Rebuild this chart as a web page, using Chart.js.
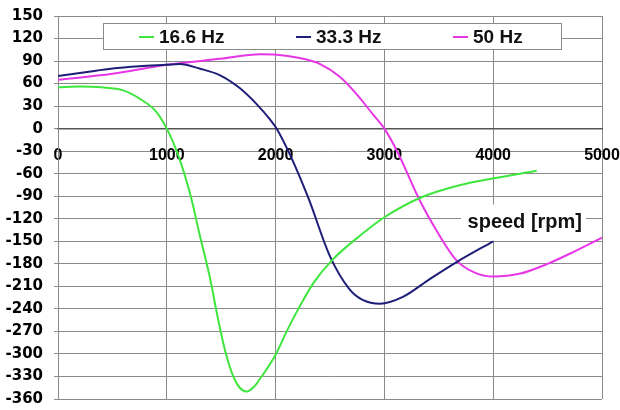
<!DOCTYPE html>
<html lang="en">
<head>
    <meta charset="UTF-8">
    <title>Torque vs speed</title>
    <script src="https://cdn.jsdelivr.net/npm/chart.js@4.4.1/dist/chart.umd.min.js"></script>
    <style>
        body { margin: 0; background: #fff; }
        #wrap { width: 620px; height: 410px; }
    </style>
</head>
<body>
<div id="wrap"><canvas id="chart"></canvas></div>
<script>
// speed [rpm] and value pairs
const rpm16 = [0, 200, 400, 600, 750, 900, 1000, 1094, 1222, 1300, 1380, 1413, 1452, 1495, 1544, 1611, 1670, 1734, 1800, 1872, 2004, 2102, 2209, 2350, 2520, 2780, 3000, 3330, 3700, 3970, 4400];
const val16 = [55, 56, 55, 51, 40, 23, 0, -31, -91, -140, -188, -210, -240, -270, -300, -330, -345, -350, -344, -330, -300, -270, -240, -205, -175, -142, -118, -92, -75, -67, -56];

const rpm33 = [0, 250, 500, 750, 1000, 1120, 1300, 1490, 1670, 1830, 1950, 2010, 2130, 2300, 2500, 2680, 2800, 2960, 3170, 3420, 3660, 4000];
const val33 = [70, 75, 80, 83, 85, 86, 80, 71, 54, 32, 12, 0, -34, -92, -170, -214, -228, -233, -224, -200, -178, -150];

const rpm50 = [0, 500, 1000, 1490, 1860, 2010, 2220, 2410, 2590, 2750, 2900, 3000, 3120, 3330, 3480, 3660, 3820, 4000, 4250, 4500, 4740, 5000];
const val50 = [65, 73, 85, 93, 99, 98.5, 94, 86, 69, 45, 18, 0, -31, -97, -136, -175, -191, -197, -193, -180, -164, -145];

const seriesNames = ['16.6 Hz', '33.3 Hz', '50 Hz'];
const seriesColors = ['#3ee63e', '#1e1e78', '#e636e6'];

function pts(xs, ys) {
    return xs.map((x, i) => ({ x: x, y: ys[i] }));
}

// no extra room for overflowing labels, the layout padding decides
function noPad(scale) {
    scale.paddingLeft = 0;
    scale.paddingRight = 0;
    scale.paddingTop = 0;
    scale.paddingBottom = 0;
}

// legend box drawn inside the plot like the original
const legendBox = {
    id: 'legendBox',
    afterDraw(chart) {
        const ctx = chart.ctx;
        const a = chart.chartArea;
        const left = a.left + 45, top = a.top + 7, w = 458, h = 26;
        ctx.save();
        ctx.fillStyle = '#fff';
        ctx.fillRect(left, top, w, h);
        ctx.strokeStyle = '#8a8a8a';
        ctx.lineWidth = 1;
        ctx.strokeRect(left + 0.5, top + 0.5, w, h);
        ctx.font = 'bold 19px "Liberation Sans", Arial, sans-serif';
        ctx.textBaseline = 'middle';
        chart.data.datasets.forEach((ds, i) => {
            const x = left + 36 + i * 157;
            const y = top + h / 2 + 1;
            ctx.strokeStyle = ds.borderColor;
            ctx.lineWidth = 2;
            ctx.beginPath();
            ctx.moveTo(x, y);
            ctx.lineTo(x + 15, y);
            ctx.stroke();
            ctx.fillStyle = '#111';
            ctx.fillText(ds.label, x + 20, y + 1);
        });

        // axis title sitting inside the plot
        const ty = chart.scales.y.getPixelForValue(-125);
        ctx.fillStyle = '#fff';
        ctx.fillRect(a.right - 141, ty - 18, 125, 36);
        ctx.fillStyle = '#111';
        ctx.font = 'bold 20px "Liberation Sans", Arial, sans-serif';
        ctx.textAlign = 'right';
        ctx.fillText('speed [rpm]', a.right - 20, ty);
        ctx.restore();
    }
};

const ctx = document.getElementById('chart').getContext('2d');
new Chart(ctx, {
    type: 'line',
    data: {
        datasets: [
            { label: seriesNames[0], data: pts(rpm16, val16), borderColor: seriesColors[0] },
            { label: seriesNames[1], data: pts(rpm33, val33), borderColor: seriesColors[1] },
            { label: seriesNames[2], data: pts(rpm50, val50), borderColor: seriesColors[2] }
        ]
    },
    options: {
        responsive: true,
        maintainAspectRatio: false,
        animation: false,
        parsing: false,
        datasets: {
            line: { borderWidth: 2, pointRadius: 0, fill: false, cubicInterpolationMode: 'monotone' }
        },
        layout: { padding: { top: 16, right: 18, bottom: 11, left: 0 } },
        plugins: {
            legend: { display: false },
            tooltip: { enabled: false }
        },
        scales: {
            x: {
                type: 'linear',
                position: { y: 0 },
                min: 0,
                max: 5000,
                ticks: {
                    stepSize: 1000,
                    color: '#000',
                    padding: 12,
                    maxRotation: 0,
                    callback: v => String(v),
                    font: { family: '"Liberation Sans", Arial, sans-serif', size: 16, weight: 'bold' }
                },
                grid: { color: '#8a8a8a', lineWidth: 1, tickLength: 5 },
                border: { color: '#555', width: 1.5 },
                afterFit: noPad
            },
            y: {
                min: -360,
                max: 150,
                ticks: {
                    stepSize: 30,
                    color: '#000',
                    padding: 11,
                    callback: v => String(v),
                    font: { family: '"DejaVu Sans", sans-serif', size: 15, weight: 'bold' }
                },
                grid: { color: '#8a8a8a', lineWidth: 1, tickLength: 4 },
                border: { color: '#8a8a8a', width: 1 },
                afterFit(scale) {
                    scale.width = 58;
                    noPad(scale);
                }
            }
        }
    },
    plugins: [legendBox]
});
</script>
</body>
</html>
